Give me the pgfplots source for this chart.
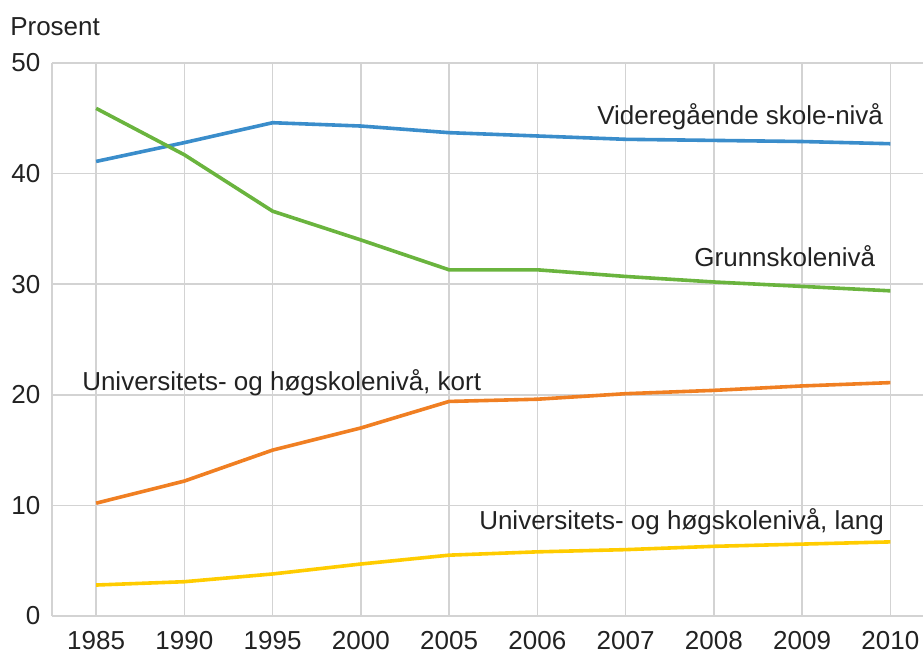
\documentclass[border=0pt]{standalone}
\usepackage{fontspec}
\setmainfont{Liberation Sans}
\usepackage{pgfplots}
\pgfplotsset{compat=1.18}
\definecolor{cblue}{HTML}{3A8DCB}
\definecolor{cgreen}{HTML}{6AB43E}
\definecolor{corange}{HTML}{F07F22}
\definecolor{cyellow}{HTML}{FFCC00}
\definecolor{cgrid}{HTML}{D3D3D3}
\definecolor{ctext}{HTML}{222222}
\begin{document}
\fontsize{19.5}{22}\selectfont
\begin{tikzpicture}
\path[use as bounding box] (-39pt,-29.25pt) rectangle (653.25pt,462pt);
\begin{axis}[
  at={(0,0)}, anchor=south west,
  scale only axis,
  width=653.25pt, height=414.75pt,
  xmin=-0.5, xmax=9.37, ymin=0, ymax=50,
  xtick={0,...,9},
  xticklabels={1985,1990,1995,2000,2005,2006,2007,2008,2009,2010},
  ytick={0,10,20,30,40,50},
  major tick length=0pt,
  grid=major,
  major grid style={cgrid, line width=1.2pt},
  axis lines*=left,
  axis line style={cgrid, line width=1.5pt},
  separate axis lines,
  /pgf/number format/assume math mode=true,
  ticklabel style={font=\fontsize{19.5}{22}\selectfont, text=ctext},
  yticklabel style={xshift=-2pt},
  xticklabel style={yshift=-5pt},
  clip=false,
  every axis plot/.append style={line width=2.7pt, no markers, line join=round},
]
\addplot[cblue] coordinates {(0,41.1) (1,42.8) (2,44.6) (3,44.3) (4,43.7) (5,43.4) (6,43.1) (7,43.0) (8,42.9) (9,42.7)};
\addplot[cgreen] coordinates {(0,45.9) (1,41.7) (2,36.6) (3,34.0) (4,31.3) (5,31.3) (6,30.7) (7,30.2) (8,29.8) (9,29.4)};
\addplot[corange] coordinates {(0,10.2) (1,12.2) (2,15.0) (3,17.0) (4,19.4) (5,19.6) (6,20.1) (7,20.4) (8,20.8) (9,21.1)};
\addplot[cyellow] coordinates {(0,2.8) (1,3.1) (2,3.8) (3,4.7) (4,5.5) (5,5.8) (6,6.0) (7,6.3) (8,6.5) (9,6.7)};
\node[anchor=east, text=ctext, inner sep=0pt] at (axis cs:8.92,45.1) {Videregående skole-nivå};
\node[anchor=east, text=ctext, inner sep=0pt] at (axis cs:8.83,32.5) {Grunnskolenivå};
\node[anchor=west, text=ctext, inner sep=0pt] at (axis cs:-0.16,21.1) {Universitets- og høgskolenivå, kort};
\node[anchor=east, text=ctext, inner sep=0pt] at (axis cs:8.93,8.5) {Universitets- og høgskolenivå, lang};
\end{axis}
\node[anchor=west, text=ctext, inner sep=0pt] at (-31.5pt,441.75pt) {Prosent};
\end{tikzpicture}
\end{document}
